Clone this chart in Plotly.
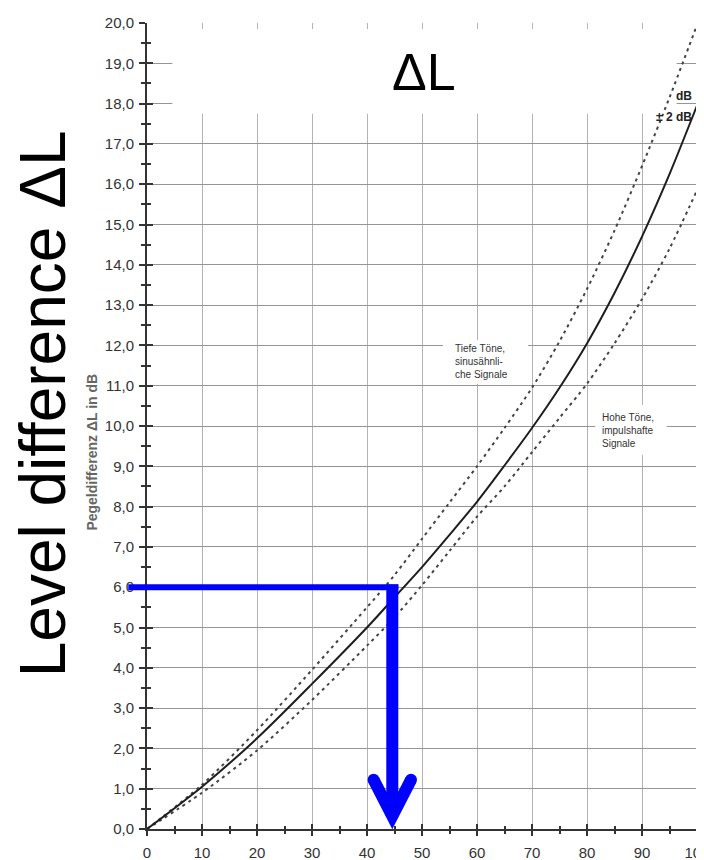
import plotly.graph_objects as go

# ---- data ----
x_ticks = [0, 10, 20, 30, 40, 50, 60, 70, 80, 90, 100]

mid_x = [0, 10, 20, 30, 40, 45, 50, 55, 60, 65, 70, 75, 80, 85, 90, 95, 100]
mid_y = [0, 1.05, 2.25, 3.6, 5.0, 5.75, 6.5, 7.3, 8.12, 9.02, 9.95, 10.95, 12.05, 13.3, 14.7, 16.25, 17.95]

upper_x = [0, 10, 20, 30, 40, 45, 50, 55, 60, 65, 70, 75, 80, 85, 90, 95, 100]
upper_y = [0, 1.1, 2.45, 3.95, 5.5, 6.3, 7.2, 8.1, 9.0, 9.95, 10.95, 12.1, 13.4, 14.85, 16.45, 18.15, 19.95]

lower_x = [0, 10, 20, 30, 40, 45, 50, 55, 60, 65, 70, 75, 80, 85, 90, 95, 100]
lower_y = [0, 0.9, 1.95, 3.2, 4.55, 5.25, 6.05, 6.9, 7.75, 8.5, 9.35, 10.2, 11.05, 12.05, 13.15, 14.4, 15.85]

ARROW_LEVEL = 6.0   # dB read-off level
ARROW_X = 44.6      # resulting x value (as drawn)

FONT = "Liberation Sans, Arial, sans-serif"
BLUE = "#0000ff"

fig = go.Figure()

fig.add_trace(go.Scatter(x=upper_x, y=upper_y, mode="lines",
                         line=dict(color="#444", width=2, dash="3px,4px", shape="spline", smoothing=0.8),
                         hoverinfo="skip", showlegend=False))
fig.add_trace(go.Scatter(x=lower_x, y=lower_y, mode="lines",
                         line=dict(color="#444", width=2, dash="3px,4px", shape="spline", smoothing=0.8),
                         hoverinfo="skip", showlegend=False))
fig.add_trace(go.Scatter(x=mid_x, y=mid_y, mode="lines",
                         line=dict(color="#1e1e1e", width=2, shape="spline", smoothing=0.8),
                         hoverinfo="skip", showlegend=False))
# empty trace so the overlay axes (inner half of crossing ticks) are drawn
fig.add_trace(go.Scatter(x=[], y=[], xaxis="x2", yaxis="y2", showlegend=False, hoverinfo="skip"))

tickfont = dict(family=FONT, size=15, color="#333")

# the page body has an 8px margin: the figure is sized to fit the rest of the window
fig.update_layout(
    width=696, height=852,
    margin=dict(l=139, r=7, t=15, b=31, autoexpand=False),
    paper_bgcolor="white", plot_bgcolor="white",
    separators=",.",
    showlegend=False,
    xaxis=dict(range=[0, 100], tickvals=x_ticks, ticks="outside", ticklen=5, tickwidth=1.5,
               tickcolor="#333", showline=True, linecolor="#333", linewidth=2, automargin=False,
               showgrid=True, gridcolor="#b4b4b4", gridwidth=1, zeroline=False,
               tickfont=tickfont, ticklabelstandoff=4, ticklabeloverflow="allow",
               minor=dict(dtick=5, ticks="outside", ticklen=3, tickwidth=1.5, tickcolor="#333", showgrid=False)),
    xaxis2=dict(range=[0, 100], overlaying="x", anchor="y", tickvals=x_ticks, ticks="inside", ticklen=5,
                tickwidth=1.5, tickcolor="#333", showticklabels=False, showgrid=False, showline=False,
                zeroline=False, automargin=False,
                minor=dict(dtick=5, ticks="inside", ticklen=3, tickwidth=1.5, tickcolor="#333", showgrid=False)),
    yaxis=dict(range=[0, 20], dtick=1, tickformat=".1f", ticks="outside", ticklen=6, tickwidth=1.5,
               tickcolor="#333", showline=True, linecolor="#333", linewidth=2, automargin=False,
               showgrid=True, gridcolor="#959595", gridwidth=1, zeroline=False,
               tickfont=tickfont, ticklabelstandoff=2,
               minor=dict(dtick=0.5, ticks="outside", ticklen=4, tickwidth=1.5, tickcolor="#333", showgrid=False)),
    yaxis2=dict(range=[0, 20], overlaying="y", anchor="x", dtick=1, ticks="inside", ticklen=6,
                tickwidth=1.5, tickcolor="#333", showticklabels=False, showgrid=False, showline=False,
                zeroline=False, automargin=False,
                minor=dict(dtick=0.5, ticks="inside", ticklen=4, tickwidth=1.5, tickcolor="#333", showgrid=False)),
)

# white areas of the scanned sheet that hide the grid
for (x0, x1, y0, y1) in [(4.6, 96.3, 17.75, 19.85), (53.8, 69.3, 11.05, 12.13), (81.5, 94.5, 9.28, 10.52)]:
    fig.add_shape(type="rect", xref="x", yref="y", x0=x0, x1=x1, y0=y0, y1=y1,
                  fillcolor="white", line=dict(width=0), layer="between")

# blue read-off arrow
fig.add_shape(type="line", xref="paper", yref="paper",
              x0=-0.034, x1=(ARROW_X + 1.1) / 100, y0=ARROW_LEVEL / 20, y1=ARROW_LEVEL / 20,
              line=dict(color=BLUE, width=6), layer="above")
fig.add_shape(type="line", xref="x", yref="y",
              x0=ARROW_X, x1=ARROW_X, y0=ARROW_LEVEL + 0.07, y1=0.45,
              line=dict(color=BLUE, width=12), layer="above")
head_l = (ARROW_X - 3.4, 1.22)
head_r = (ARROW_X + 3.4, 1.22)
tip = (ARROW_X, 0.32)
fig.add_shape(type="path", xref="x", yref="y",
              path=f"M {head_l[0]},{head_l[1]} L {tip[0]},{tip[1]} L {head_r[0]},{head_r[1]}",
              line=dict(color=BLUE, width=12), layer="above")
for (cx, cy) in [head_l, head_r]:
    fig.add_shape(type="circle", xref="x", yref="y", xsizemode="pixel", ysizemode="pixel",
                  xanchor=cx, yanchor=cy, x0=-6, x1=6, y0=-6, y1=6,
                  fillcolor=BLUE, line=dict(width=0), layer="above")

# texts
fig.add_annotation(text="ΔL", x=50.4, y=18.78, xref="x", yref="y", showarrow=False,
                   xanchor="center", yanchor="middle",
                   font=dict(family=FONT, size=52, color="black"))
fig.add_annotation(text="Level difference ΔL", x=-0.189, y=0.527, xref="paper", yref="paper",
                   showarrow=False, textangle=-90, xanchor="center", yanchor="middle",
                   font=dict(family=FONT, size=64, color="black"))
fig.add_annotation(text="<b>Pegeldifferenz ΔL in dB</b>", x=-0.1, y=0.467, xref="paper", yref="paper",
                   showarrow=False, textangle=-90, xanchor="center", yanchor="middle",
                   font=dict(family=FONT, size=14, color="#666"))
fig.add_annotation(text="<b>dB</b>", x=99.4, y=18.2, xref="x", yref="y", xanchor="right",
                   showarrow=False, font=dict(family=FONT, size=12, color="#222"))
fig.add_annotation(text="<b>± 2 dB</b>", x=99.4, y=17.67, xref="x", yref="y", xanchor="right",
                   showarrow=False, font=dict(family=FONT, size=12, color="#222"))
fig.add_annotation(text="Tiefe Töne,<br>sinusähnli-<br>che Signale", x=55.6, y=11.59, xref="x", yref="y",
                   xanchor="left", align="left", showarrow=False,
                   font=dict(family=FONT, size=10, color="#333"))
fig.add_annotation(text="Hohe Töne,<br>impulshafte<br>Signale", x=82.4, y=9.9, xref="x", yref="y",
                   xanchor="left", align="left", showarrow=False,
                   font=dict(family=FONT, size=10, color="#333"))

fig.write_html("out.html")
